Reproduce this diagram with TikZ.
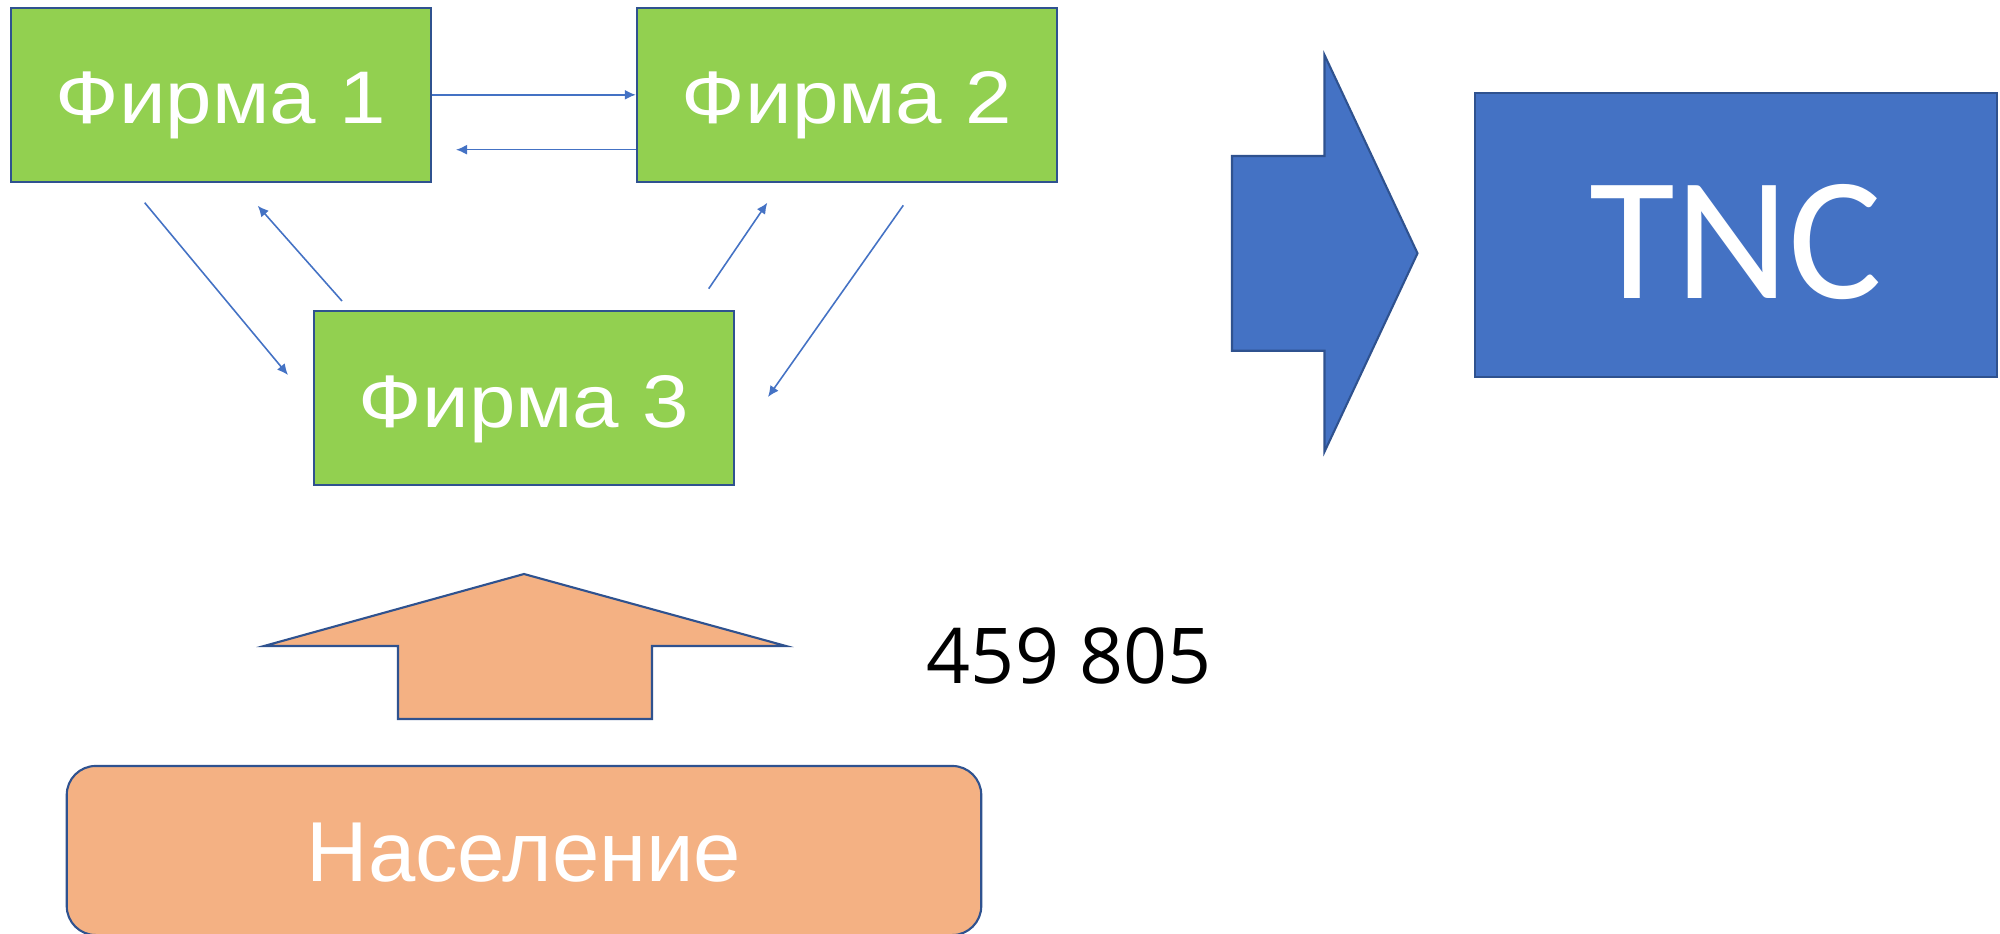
\documentclass[tikz,border=0pt]{standalone}
\usepackage{fontspec}
\setmainfont{Liberation Sans}
\newfontfamily\calibrifont{Carlito}
\newfontfamily\numfont{Open Sans}
\usetikzlibrary{arrows.meta}
\definecolor{firmgreen}{HTML}{92D050}
\definecolor{tncblue}{HTML}{4472C4}
\definecolor{edgeblue}{HTML}{2F528F}
\definecolor{peach}{HTML}{F4B183}
\newcommand{\widetext}[1]{\scalebox{1.12}[1]{#1}}

\begin{document}
\begin{tikzpicture}[x = 0.01cm, y = -0.01cm,
  firma/.style = {draw=edgeblue, line width=0.6pt, fill=firmgreen, text=white,
    font=\fontsize{21.2}{24}\selectfont, minimum width=4.2cm, minimum height=1.74cm,
    text height=0.583cm, text depth=0pt, inner sep=0pt},
  link/.style = {draw=tncblue, line width=0.45pt, -{Latex[length=1.1mm,width=1mm]}},
  block/.style = {draw=edgeblue, line width=0.6pt}]
\useasboundingbox (0,0) rectangle (2000,933);
\node[firma] (f1) at (220.8,94.8) {\widetext{Фирма 1}};
\node[firma] (f2) at (847,94.8) {\widetext{Фирма 2}};
\node[firma] (f3) at (524,398) {\widetext{Фирма 3}};
\node[block, fill=tncblue, text=white, font=\calibrifont\fontsize{50}{56}\selectfont,
  minimum width=5.22cm, minimum height=2.84cm, text height=1.26cm, text depth=0pt,
  inner sep=0pt] (tnc) at (1736,235) {TNC};
\node[block, fill=peach, text=white, rounded corners=0.29cm, font=\fontsize{24.2}{28}\selectfont,
  minimum width=9.14cm, minimum height=1.69cm, text height=0.61cm, text depth=0pt,
  inner sep=0pt] (pop) at (524,850.5) {Население};
\node[font=\numfont\fontsize{21.9}{26}\selectfont, text height=0.55cm, text depth=0pt,
  inner sep=0pt] (num) at (1069,655.5) {459 805};
\draw[block, fill=tncblue] (1232,156) -- (1324.5,156) -- (1324.5,55) -- (1417.5,253.3)
  -- (1324.5,451.7) -- (1324.5,350.7) -- (1232,350.7) -- cycle;
\draw[block, fill=peach] (524,574) -- (786,646) -- (652,646) -- (652,719) -- (398,719)
  -- (398,646) -- (264,646) -- cycle;
\coordinate (b1) at (456,149.7);
\coordinate (p1) at (144.7,202.7);
\coordinate (p2) at (288,375);
\coordinate (p3) at (342,301);
\coordinate (p4) at (257.7,205.7);
\coordinate (p5) at (708.7,288.7);
\coordinate (p6) at (767.3,202.7);
\coordinate (p7) at (903.3,205.3);
\coordinate (p8) at (768,397);
\draw[link] (f1.east) -- (f2.west);
\draw[link] (f2.west |- b1) -- (b1);
\draw[link] (p1) -- (p2);
\draw[link] (p3) -- (p4);
\draw[link] (p5) -- (p6);
\draw[link] (p7) -- (p8);
\end{tikzpicture}
\end{document}
